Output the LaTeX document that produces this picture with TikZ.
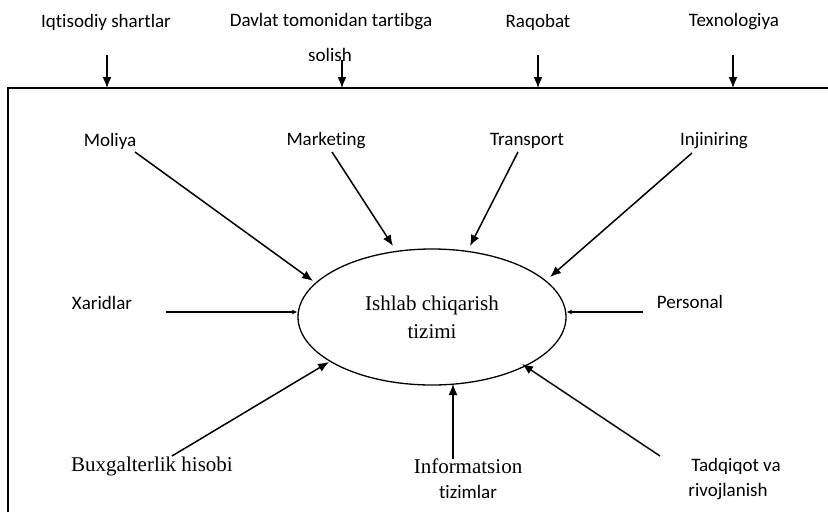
\documentclass[tikz,border=0pt]{standalone}
\usepackage{fontspec}
\setmainfont{Liberation Serif}
\newfontfamily\calib[Ligatures=NoCommon]{Carlito}
\usetikzlibrary{arrows.meta,shapes.geometric}
\begin{document}
\begin{tikzpicture}[x=1pt,y=-1pt,
  sanslbl/.style={font=\calib\fontsize{19}{21}\selectfont,inner sep=0pt,align=center},
  seriflbl/.style={font=\fontsize{21}{23}\selectfont,inner sep=0pt,align=center},
  arr/.style={line width=1.5pt,-{Latex[length=11pt,width=9pt]}},
  smallarr/.style={line width=1.4pt,-{Latex[length=5pt,width=5pt]}},
  frame/.style={line width=1.6pt}]
\useasboundingbox (0,0) rectangle (828,512);
% frame
\draw[frame] (8,512) -- (8,88) -- (828,88);
% top labels
\node[sanslbl] (iq) at (106,22) {Iqtisodiy shartlar};
\node[sanslbl] (dav) at (331,22) {Davlat tomonidan tartibga};
\node[sanslbl] (sol) at (330,55) {solish};
\node[sanslbl] (raq) at (538,22) {Raqobat};
\node[sanslbl] (tex) at (734,22) {Texnologiya};
\coordinate (iqs) at (107,55); \coordinate (iqe) at (107,88);
\coordinate (dvs) at (342,60); \coordinate (dve) at (342,88);
\coordinate (rqs) at (538,55); \coordinate (rqe) at (538,88);
\coordinate (txs) at (733,55); \coordinate (txe) at (733,88);
\draw[arr] (iqs) -- (iqe);
\draw[arr] (dvs) -- (dve);
\draw[arr] (rqs) -- (rqe);
\draw[arr] (txs) -- (txe);
% ellipse
\node[ellipse,draw,line width=1.3pt,minimum width=268pt,minimum height=136pt,inner sep=0pt] (sys) at (432,317) {};
\node[seriflbl] (systxt) at (432,317) {Ishlab chiqarish\\[5pt]tizimi};
% surrounding labels
\node[sanslbl] (mol) at (110,141) {Moliya};
\node[sanslbl] (mar) at (326,141) {Marketing};
\node[sanslbl] (tra) at (527,141) {Transport};
\node[sanslbl] (inj) at (714,141) {Injiniring};
\node[sanslbl] (xar) at (102,303) {Xaridlar};
\node[sanslbl] (per) at (690,302) {Personal};
\node[seriflbl] (bux) at (152,466) {Buxgalterlik hisobi};
\node[seriflbl] (inf) at (468,466) {Informatsion};
\node[sanslbl] (tiz) at (468,492) {tizimlar};
\node[sanslbl] (tad) at (736,466) {Tadqiqot va};
\node[sanslbl] (riv) at (728,492) {rivojlanish};
% connectors
\coordinate (molS) at (135,152);
\coordinate (marS) at (332,152);
\coordinate (traS) at (518,152);
\coordinate (injS) at (692,153);
\coordinate (xarS) at (166,312);
\coordinate (perS) at (643,312);
\coordinate (buxS) at (172,456);
\coordinate (infS) at (453,459);
\coordinate (tadS) at (660,456);
\draw[arr] (molS) -- (313,281);
\draw[arr] (marS) -- (393,246);
\draw[arr] (traS) -- (470,246);
\draw[arr] (injS) -- (550,277);
\draw[smallarr] (xarS) -- (sys.west |- xarS);
\draw[smallarr] (perS) -- (sys.east |- perS);
\draw[arr] (buxS) -- (329,362);
\draw[arr] (infS) -- (453,384);
\draw[arr] (tadS) -- (522,364);
\end{tikzpicture}
\end{document}
